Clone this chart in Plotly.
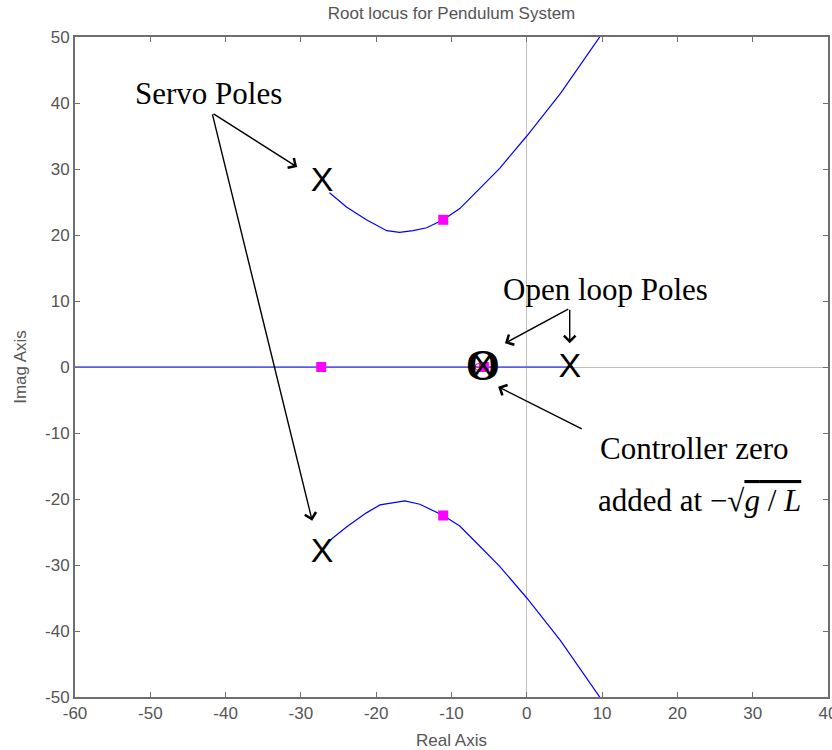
import plotly.graph_objects as go

# ---------------- data ----------------
real_locus_re = [-60.0, 6.0]
real_locus_im = [0.0, 0.0]

upper_re = [-26.2, -23.9, -21.3, -18.6, -16.9, -15.1, -13.3, -11.1, -8.9, -6.2, -3.6, 0.0, 4.5, 9.8]
upper_im = [26.4, 24.2, 22.3, 20.65, 20.4, 20.65, 21.1, 22.3, 24.0, 27.1, 30.1, 35.0, 41.5, 50.2]

lower_re = [-26.1, -23.9, -21.3, -19.5, -16.2, -14.2, -11.1, -8.9, -6.2, -3.6, 0.0, 4.5, 9.8]
lower_im = [-26.2, -24.2, -22.1, -20.9, -20.3, -20.8, -22.5, -24.1, -27.2, -30.2, -35.0, -41.5, -50.2]

servo_pole_re = [-27.2, -27.2]
servo_pole_im = [27.9, -28.2]
open_pole_re = [5.7]
open_pole_im = [-0.3]
zero_re = [-5.85]
zero_im = [-0.3]

gain_marker_re = [-11.1, -11.1, -27.3, -5.7]
gain_marker_im = [22.3, -22.5, 0.0, 0.0]
zero_marker_re = [-6.4]
zero_marker_im = [0.0]

x_ticks = [-60, -50, -40, -30, -20, -10, 0, 10, 20, 30, 40]
x_tick_labels = ["-60", "-50", "-40", "-30", "-20", "-10", "0", "10", "20", "30", "40"]
y_ticks = [-50, -40, -30, -20, -10, 0, 10, 20, 30, 40, 50]
y_tick_labels = ["-50", "-40", "-30", "-20", "-10", "0", "10", "20", "30", "40", "50"]

title_text = "Root locus for Pendulum System"
x_label = "Real Axis"
y_label = "Imag Axis"

# ---------------- figure ----------------
BLUE = "#0000ff"
GRAY = "#555555"
AXGRAY = "#6e6e6e"
SERIF = "Liberation Serif, Times New Roman, serif"
SANS = "Liberation Sans, Arial, sans-serif"

fig = go.Figure()
line_style = dict(color=BLUE, width=1.2)
fig.add_trace(go.Scatter(x=real_locus_re, y=real_locus_im, mode="lines", line=line_style))
fig.add_trace(go.Scatter(x=upper_re, y=upper_im, mode="lines", line=line_style))
fig.add_trace(go.Scatter(x=lower_re, y=lower_im, mode="lines", line=line_style))

fig.add_trace(go.Scatter(x=zero_marker_re, y=zero_marker_im, mode="markers",
                         marker=dict(symbol="circle-open", size=7, color="red", line=dict(width=1))))
fig.add_trace(go.Scatter(x=gain_marker_re, y=gain_marker_im, mode="markers",
                         marker=dict(symbol="square", size=10, color="#ff00ff")))

fig.add_trace(go.Scatter(x=zero_re, y=zero_im, mode="text", text=["O"],
                         textfont=dict(family=SERIF, size=44, color="black", weight="bold")))
fig.add_trace(go.Scatter(x=servo_pole_re + open_pole_re + zero_re,
                         y=servo_pole_im + open_pole_im + zero_im,
                         mode="text", text=["X"] * 4,
                         textfont=dict(family=SANS, size=34, color="black")))

# arrows (head, tail) in data coordinates
arrows = [
    ((-30.5, 30.3), (-41.8, 38.5)),
    ((-28.5, -23.3), (-41.8, 38.5)),
    ((-2.9, 3.6), (5.7, 8.9)),
    ((5.7, 3.6), (5.7, 8.9)),
    ((-3.8, -3.0), (7.5, -9.5)),
]
for (hx, hy), (tx, ty) in arrows:
    fig.add_annotation(x=hx, y=hy, ax=tx, ay=ty, xref="x", yref="y", axref="x", ayref="y",
                       text="", showarrow=True, arrowhead=4, arrowsize=1.6, arrowwidth=1.4,
                       arrowcolor="black")

labels = [
    (-42.3, 41.4, "Servo Poles"),
    (10.5, 11.7, "Open loop Poles"),
    (22.3, -12.3, "Controller zero"),
    (23.0, -20.2, "added at −√<span style='text-decoration:overline'><i>g</i> / <i>L</i></span>"),
]
for lx, ly, t in labels:
    fig.add_annotation(x=lx, y=ly, xref="x", yref="y", text=t, showarrow=False,
                       xanchor="center", yanchor="middle",
                       font=dict(family=SERIF, size=31, color="black"))

axis_common = dict(
    showgrid=False, zeroline=True, zerolinecolor="#c0c0c0", zerolinewidth=1,
    showline=True, linecolor=AXGRAY, linewidth=2, mirror="allticks",
    ticks="inside", ticklen=5, tickcolor=AXGRAY, tickwidth=1,
    tickfont=dict(family=SANS, size=17, color=GRAY),
    title_font=dict(family=SANS, size=17, color=GRAY),
    automargin=False, ticklabeloverflow="allow",
)
fig.update_xaxes(range=[-60, 40], tickvals=x_ticks, ticktext=x_tick_labels,
                 title_text=x_label, title_standoff=12, **axis_common)
fig.update_yaxes(range=[-50, 50], tickvals=y_ticks, ticktext=y_tick_labels,
                 title_text=y_label, title_standoff=14, **axis_common)

fig.update_layout(
    width=832, height=750,
    margin=dict(l=75, r=4, t=37, b=53, autoexpand=False),
    paper_bgcolor="white", plot_bgcolor="white",
    showlegend=False,
    title=dict(text=title_text, x=0.5, xref="paper", y=1 - 13 / 750, yref="container",
               yanchor="middle", font=dict(family=SANS, size=17, color=GRAY)),
)

fig.write_html("out.html", config={"displayModeBar": False},
               post_script="document.body.style.margin='0px';")
